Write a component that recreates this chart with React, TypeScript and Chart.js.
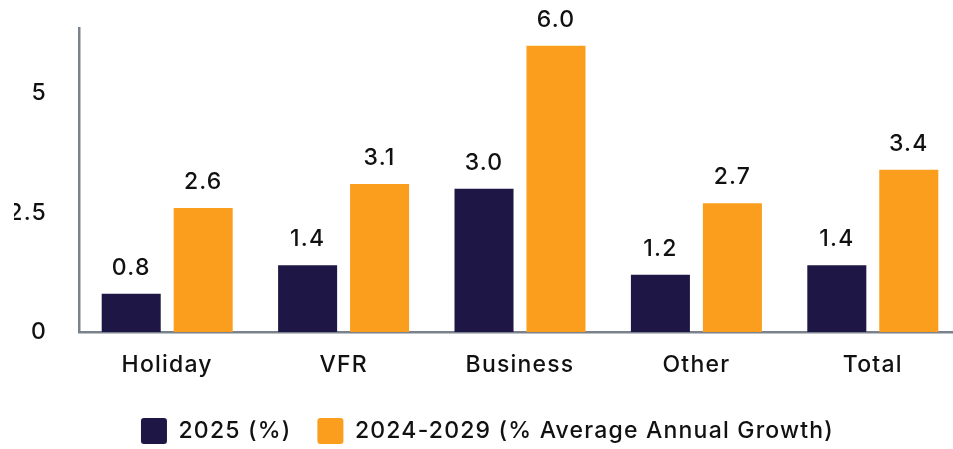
import React, { useEffect, useRef } from "react";
import { Chart, registerables } from "chart.js";

Chart.register(...registerables);

const categories = ["Holiday", "VFR", "Business", "Other", "Total"];
const series2025 = [0.8, 1.4, 3.0, 1.2, 1.4];
const seriesGrowth = [2.6, 3.1, 6.0, 2.7, 3.4];
const seriesLabels = ["2025 (%)", "2024-2029 (% Average Annual Growth)"];
const yTicks = [0, 2.5, 5];
const yMax = 6.37;

const NAVY = "#1e1645";
const ORANGE = "#fb9e1d";
const AXIS = "#7a838d";
const TEXT = "#111111";
const FONT = "Inter";
const FONT_SIZE = 23;
const SPACING = "1.2px";

const spacingPlugin = {
  id: "spacing",
  beforeUpdate(chart: any) {
    chart.ctx.letterSpacing = SPACING;
  },
  beforeLayout(chart: any) {
    chart.ctx.letterSpacing = SPACING;
  },
  beforeDraw(chart: any) {
    chart.ctx.letterSpacing = SPACING;
  },
};

const valueLabels = {
  id: "valueLabels",
  afterDatasetsDraw(chart: any) {
    const ctx = chart.ctx;
    ctx.save();
    ctx.letterSpacing = SPACING;
    ctx.font = `500 ${FONT_SIZE}px ${FONT}`;
    ctx.fillStyle = TEXT;
    ctx.textAlign = "center";
    ctx.textBaseline = "alphabetic";
    chart.data.datasets.forEach((ds: any, i: number) => {
      const meta = chart.getDatasetMeta(i);
      meta.data.forEach((bar: any, j: number) => {
        ctx.fillText(Number(ds.data[j]).toFixed(1), bar.x, bar.y - 19);
      });
    });
    ctx.restore();
  },
};

export default function App() {
  const ref = useRef<HTMLCanvasElement | null>(null);
  useEffect(() => {
    if (!ref.current) return;
    const font = { family: FONT, size: FONT_SIZE, weight: 500 as any };
    const chart = new Chart(ref.current, {
      type: "bar",
      data: {
        labels: categories,
        datasets: [
          { label: seriesLabels[0], data: series2025, backgroundColor: NAVY },
          { label: seriesLabels[1], data: seriesGrowth, backgroundColor: ORANGE },
        ],
      },
      options: {
        animation: false,
        responsive: true,
        maintainAspectRatio: false,
        layout: { padding: { top: 28, left: 14, right: 14, bottom: 0 } },
        datasets: { bar: { barPercentage: 0.82, categoryPercentage: 0.816 } } as any,
        plugins: {
          tooltip: { enabled: false },
          legend: {
            position: "bottom",
            labels: {
              color: TEXT,
              font,
              boxWidth: 26,
              boxHeight: 26,
              useBorderRadius: true,
              borderRadius: 3,
              padding: 26,
            },
          },
        },
        scales: {
          x: {
            grid: { display: false, drawTicks: false },
            border: { display: true, color: AXIS, width: 2.5 },
            ticks: { color: TEXT, font, padding: 19 },
            afterFit: (axis: any) => {
              axis.height = 60;
              axis.paddingLeft = 0;
              axis.paddingRight = 0;
            },
          },
          y: {
            min: 0,
            max: yMax,
            afterBuildTicks: (axis: any) => {
              axis.ticks = yTicks.map((v) => ({ value: v }));
            },
            grid: { display: false, drawTicks: false },
            border: { display: true, color: AXIS, width: 2.5 },
            ticks: {
              color: TEXT,
              font,
              padding: 32,
              callback: (v: any) => String(v),
            },
            afterFit: (axis: any) => {
              axis.width = 65;
              axis.paddingTop = 0;
              axis.paddingBottom = 0;
            },
          },
        },
      },
      plugins: [spacingPlugin, valueLabels],
    });
    return () => chart.destroy();
  }, []);
  return (
    <div style={{ position: "absolute", left: 0, top: 0, width: 953, height: 449, overflow: "hidden" }}>
      <div style={{ position: "relative", width: 975, height: 454 }}>
        <canvas ref={ref} />
      </div>
    </div>
  );
}
